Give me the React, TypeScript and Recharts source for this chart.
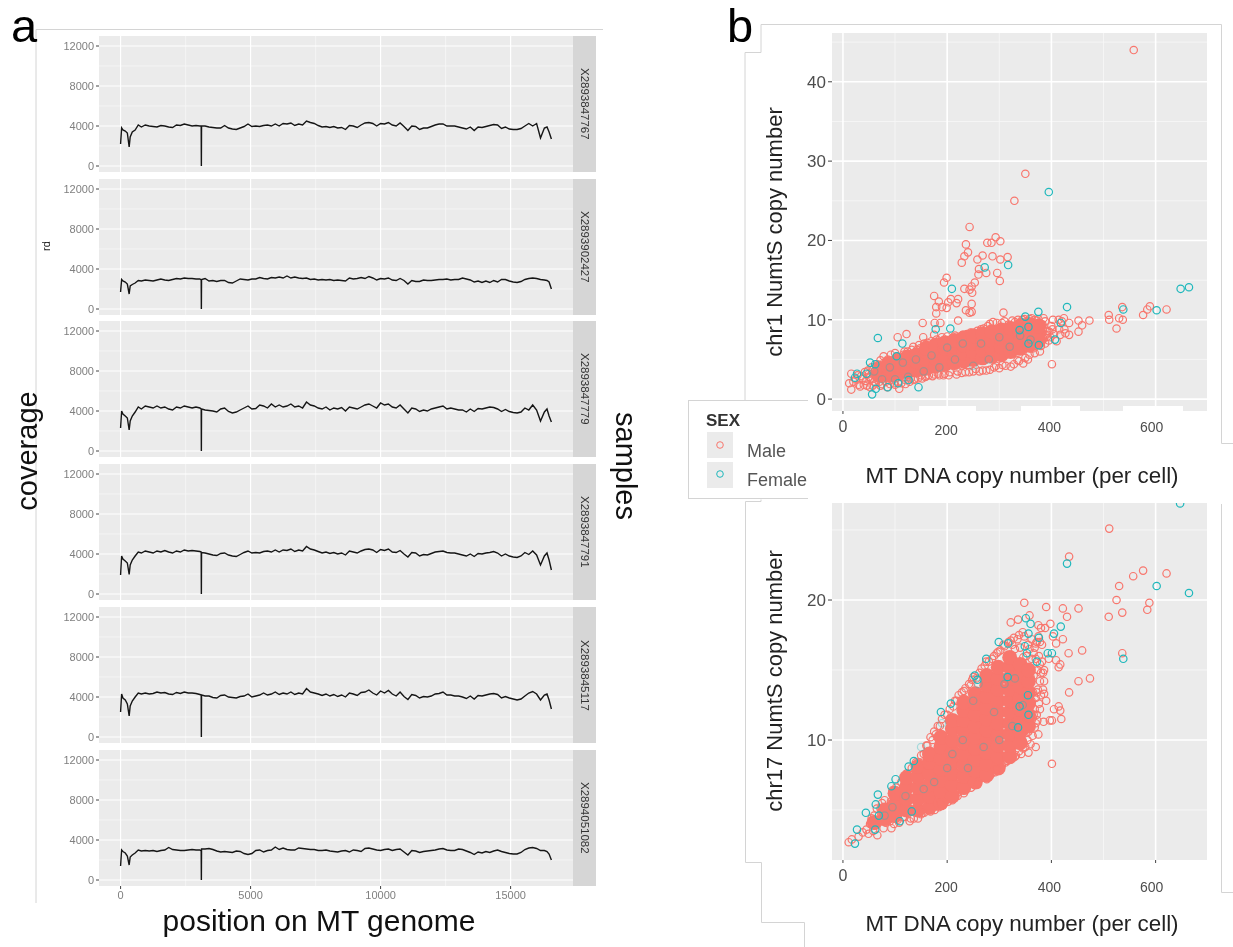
import React from "react";
import { LineChart, Line, ScatterChart, Scatter, XAxis, YAxis, CartesianGrid } from "recharts";

const FONT = '"Liberation Sans", Arial, sans-serif';
const MALE = "#F8766D";
const FEMALE = "#1FB8BC";

// ---------- panel a: coverage along the MT genome ----------
const positions = [
  0, 40, 90, 180, 260, 330, 370, 450, 560, 680, 800,
  950, 1100, 1250, 1400, 1550, 1700, 1850, 2000, 2150, 2300, 2450, 2600, 2750, 2900, 3050,
  3100, 3107, 3114,
  3250, 3400, 3550, 3700, 3850, 4000, 4150, 4300, 4450, 4600,
  4750, 4900, 5050, 5200, 5350, 5500, 5650, 5800, 5950, 6100,
  6250, 6400, 6550, 6700, 6850, 7000, 7150, 7300, 7450, 7600,
  7750, 7900, 8050, 8200, 8350, 8500, 8650, 8800, 8950, 9100,
  9250, 9400, 9550, 9700, 9850, 10000, 10150, 10300, 10450, 10600,
  10750, 10900, 11050, 11200, 11350, 11500, 11650, 11800, 11950, 12100,
  12250, 12400, 12550, 12700, 12850, 13000, 13150, 13300, 13450, 13600,
  13750, 13900, 14050, 14200, 14350, 14500, 14650, 14800, 14950, 15100,
  15250, 15400, 15550, 15700, 15850, 16000, 16150, 16300,
  16400, 16480, 16569,
];

const rdX2893847767 = [
  2200, 3800, 3600, 3500, 3300, 1900, 2900, 3400, 3600, 4100, 3900,
  4100, 4000, 3950, 3900, 4050, 4000, 3900, 3850, 4100, 4050, 4200, 4100, 4000, 4050, 4000,
  4000, 0, 4000,
  4000, 3900, 3850, 3800, 3800, 4050, 3800, 3700, 3650, 3800,
  3950, 4200, 3950, 4000, 3950, 4050, 4100, 4000, 4200, 4000,
  4250, 4200, 4300, 4050, 4200, 4100, 4500, 4350, 4250, 4050,
  3900, 3950, 3850, 3950, 3800, 3850, 3650, 4050, 4000, 3850,
  4100, 4300, 4350, 4250, 4000, 4250, 4200, 4350, 4100, 4000,
  4300, 3950, 3550, 4000, 3950, 3650, 3800, 3800, 3950, 4100,
  4200, 4200, 4000, 4000, 4000, 3900, 3800, 3700, 3900, 3550,
  3900, 3850, 3950, 4050, 4150, 4100, 3750, 3900, 3700, 3650,
  3650, 3750, 4000, 4250, 4000, 4250, 2800, 3800,
  3900, 3400, 2700,
];
const rdX2893902427 = [
  1700, 2950, 2800, 2700, 2500, 1500, 2300, 2450, 2600, 2850, 2800,
  2900, 2850, 2800, 2900, 3000, 2900, 2850, 2950, 3050, 3000, 3100, 3050, 3050, 3000, 3000,
  2900, 0, 2950,
  3050, 2800, 2850, 2750, 2850, 2850, 2650, 2600, 2800, 3000,
  2950, 2900, 3000, 3000, 3150, 3050, 3000, 3150, 3100, 3200,
  3100, 3300, 3100, 3200, 3100, 3050, 3100, 2950, 3000, 2900,
  2950, 2900, 2950, 2850, 2900, 2850, 2800, 3100, 3000, 3050,
  3150, 3050, 3250, 3100, 2900, 3050, 3000, 3100, 2900, 2850,
  3050, 2850, 2500, 2850, 2750, 2750, 2900, 2850, 2850, 2900,
  2950, 2950, 3000, 2900, 2950, 2950, 3100, 3000, 2900, 2700,
  2800, 2650, 2800, 2650, 2850, 2700, 2950, 2950, 2800, 2700,
  2650, 2750, 2950, 3050, 3100, 3050, 2950, 2900,
  2850, 2700, 2000,
];
const rdX2893847779 = [
  2300, 4000, 3700, 3500, 3300, 2100, 3000, 3500, 3900, 4400, 4200,
  4500, 4400, 4300, 4500, 4300, 4400, 4200, 4100, 4400, 4300, 4500, 4400, 4300, 4400, 4300,
  4200, 0, 4200,
  4100, 4050, 4000, 3900, 4200, 4300, 3950, 3800, 3900, 4100,
  4300, 4500, 4200, 4250, 4600, 4500, 4300, 4700, 4400, 4600,
  4400, 4500, 4700, 4400, 4500, 4300, 4900, 4600, 4500, 4300,
  4200, 4400, 4100, 4300, 4200, 4350, 4000, 4400, 4300, 4200,
  4400, 4600, 4700, 4500, 4300, 4800, 4600, 4700, 4400, 4300,
  4600, 4200, 3800, 4300, 4200, 3950, 4100, 4000, 4200, 4300,
  4400, 4500, 4200, 4300, 4200, 4100, 4100, 3900, 4200, 3950,
  4250, 4200, 4300, 4400, 4350, 4200, 3950, 4150, 3950, 3850,
  3800, 3900, 4300, 4100, 4600, 4100, 3000, 3900,
  4200, 3500, 2900,
];
const rdX2893847791 = [
  1900, 3800, 3500, 3300, 3100, 1950, 2900, 3400, 3800, 4200, 4100,
  4300, 4200, 4100, 4300, 4200, 4350, 4200, 4100, 4300, 4200, 4400, 4300, 4350, 4300, 4250,
  4200, 0, 4150,
  4100, 4000, 3900, 3850, 4050, 4100, 3900, 3800, 3750, 3950,
  4150, 4300, 4100, 4150, 4100, 4250, 4300, 4200, 4400, 4200,
  4400, 4350, 4500, 4250, 4400, 4300, 4750, 4500, 4400, 4250,
  4100, 4200, 4050, 4150, 4000, 4100, 3900, 4300, 4200, 4100,
  4300, 4450, 4500, 4400, 4150, 4450, 4350, 4500, 4200, 4150,
  4350, 4000, 3700, 4150, 4100, 3800, 3950, 3900, 4050, 4200,
  4250, 4300, 4150, 4100, 4100, 4000, 3900, 3800, 4000, 3750,
  4050, 4000, 4100, 4150, 4250, 4100, 3800, 4000, 3800, 3700,
  3650, 3800, 4150, 3950, 4300, 3900, 2900, 3800,
  4100, 3400, 2400,
];
const rdX2893845117 = [
  2500, 4300, 3900, 3700, 3300, 2100, 3100, 3600, 4000, 4400, 4300,
  4400, 4300, 4350, 4500, 4400, 4450, 4300, 4250, 4450, 4350, 4500, 4400, 4400, 4350, 4250,
  4200, 0, 4200,
  4100, 4100, 3950, 3900, 4150, 4200, 4000, 3950, 3900, 4050,
  4100, 4300, 4000, 4100, 4200, 4400, 4200, 4300, 4500, 4250,
  4400, 4300, 4500, 4250, 4400, 4300, 4850, 4500, 4400, 4300,
  4150, 4300, 4100, 4250, 4050, 4200, 4000, 4400, 4300, 4150,
  4450, 4500, 4700, 4400, 4200, 4600, 4400, 4650, 4300, 4100,
  4500, 4050, 3750, 4250, 4150, 3900, 4050, 4000, 4100, 4300,
  4350, 4500, 4200, 4200, 4100, 4100, 4000, 3850, 4100, 3800,
  4150, 4100, 4200, 4300, 4350, 4250, 3900, 4050, 3900, 3800,
  3700, 3800, 4100, 4400, 4550, 4300, 3700, 4200,
  4300, 3700, 2800,
];
const rdX2894051082 = [
  1400, 3000, 2850, 2700, 2400, 1500, 2300, 2500, 2700, 3000, 2900,
  2950, 2900, 2950, 2850, 2950, 3000, 3250, 3050, 3000, 2950, 2950, 3000, 3050, 3000, 3000,
  2900, 0, 3100,
  3100, 3150, 3050, 2900, 2800, 2850, 2800, 2750, 2900, 2850,
  2650, 2550, 2650, 2950, 3000, 2800, 2950, 3000, 3300, 3050,
  3200, 3050, 3000, 3000, 3200, 3150, 3100, 3050, 3050, 2950,
  2950, 3000, 2900, 2850, 2800, 2900, 2950, 2800, 3000, 2950,
  2850, 3150, 3200, 3100, 3000, 2950, 3050, 3100, 2950, 3050,
  3100, 2800, 2500, 2950, 2900, 2750, 2850, 2900, 2950, 3000,
  3100, 3150, 3000, 2950, 2950, 3100, 3050, 2900, 2750, 2550,
  2800, 2700, 2850, 2750, 2900, 3000, 2850, 2750, 2650, 2600,
  2600, 2750, 3050, 3200, 3250, 3150, 2950, 2950,
  2850, 2600, 2000,
];

const sampleNames = ["X2893847767", "X2893902427", "X2893847779", "X2893847791", "X2893845117", "X2894051082"];
const sampleValues = [rdX2893847767, rdX2893902427, rdX2893847779, rdX2893847791, rdX2893845117, rdX2894051082];
const facetTops = [36, 179, 321, 464, 607, 750];
const rdTicks = [0, 4000, 8000, 12000];
const rdMinor = [2000, 6000, 10000];
const posTicks = [0, 5000, 10000, 15000];
const posMinor = [2500, 7500, 12500];

// ---------- panel b: copy numbers [MT DNA, NumtS] ----------
type P = number[];
const chr1MaleOutliers: P[] = [
  [558,44],[350,28.4],[329,25],[243,21.7],[236,19.5],[293,20.4],[302,19.9],[277,19.7],[285,19.7],[240,18.5],
  [233,18],[228,17.2],[258,17.6],[268,18.1],[287,18],[302,17.6],[316,17.9],[261,16.4],[260,15.7],[275,15.9],
  [296,15.9],[301,14.9],[253,14.7],[199,15.3],[194,14.7],[247,14.2],[233,13.9],[243,13.8],[248,13.4],[175,13],
  [184,12.3],[221,12.6],[207,12.6],[202,12.2],[218,12.1],[179,11.6],[190,11.6],[199,11.5],[247,12],[236,11.2],
  [243,10.9],[247,11],[179,10.8],[308,10.9],[153,9.6],[176,9.6],[187,9.6],[221,9.9],[175,8.1],[122,8.2],
  [105,7.8],[154,7.8],[401,4.4],[473,9.9],[452,9.9],[459,9.3],[510,10.6],[511,10],[530,10.2],[537,10],
  [525,8.9],[536,11.6],[576,10.6],[584,11.3],[589,11.7],[621,11.3],[434,9.6],[424,10.2],[414,10],[403,10],
  [420,9.8],[452,8.5],[434,8.1],[427,8.3],[417,8.1],
];
const chr1MaleBand: P[] = [
  [12,2],[16,1.2],[16,3.2],[25,2.5],[30,1.8],[35,2.9],[40,1.8],[44,2.3],[48,3.6],[52,1.5],[55,4],[60,2.2],[62,3.2],
  [66,4.4],[70,2.2],[72,4.9],[78,5.4],[80,3],[85,1.5],[88,4.4],[92,5.6],[95,2.4],[100,5.8],[102,3.4],[108,1.3],
  [110,2.8],[112,5.1],[118,6],[120,2.4],[125,3],[128,5.6],[130,2.6],[135,6.6],[138,2.5],[142,6.2],[146,6.8],[150,3],
  [155,6.4],[158,2.8],[162,7.1],[165,3],[170,7.3],[175,3.1],[180,7.5],[185,3],[190,7.8],[195,3.2],[200,7.9],[205,3.4],
  [215,8],[220,3.5],[230,8.1],[235,3.4],[245,8.4],[250,3.5],[258,8.6],[262,3.5],[270,8.9],[275,3.6],[282,9.5],[290,4],
  [295,9.6],[300,3.9],[305,9.6],[312,4.2],[318,9.4],[322,4.1],[330,9.7],[335,4.9],[342,9.7],[346,4.5],[352,9.8],
  [358,5.6],[362,10.2],[368,5.8],[372,9.9],[378,6],[383,9.4],[388,7],[392,8.6],[395,7.4],[400,9.2],[405,8.2],[410,7.3],
  [415,8.8],[425,8.8],[375,10.1],[385,10.2],[368,10],[360,6.4],[350,5.2],[70,3.6],[80,4.2],[95,3.6],[105,4.6],[60,3],
  [50,2.8],[75,1.9],[100,1.8],[115,3.4],[130,5],[145,5.5],[390,8.1],[382,7.5],[384,8.7],
];
const chr1MaleBandExtra: P[] = [
  [20,2.2],[28,3],[33,1.6],[38,2.6],[42,3.4],[46,1.7],[50,3.2],[54,2.5],[57,1.7],[58,3.7],[63,2],[65,2.7],[68,3.3],
  [72,1.7],[74,3.8],[76,2.6],[79,4.6],[82,2.2],[84,3.4],[86,5],[90,1.9],[92,3],[96,4.9],[98,2],[100,3],[104,5.4],
  [106,2.2],[110,3.8],[112,2],[116,5.6],[120,1.9],[124,6],[128,2.2],[132,6.2],[136,2.4],[140,5.8],[144,2.6],[148,6.4],
  [152,2.6],[156,7],[160,2.9],[168,6.7],[172,2.9],[176,7],[182,3.2],[188,7.2],[193,3],[198,7.4],[203,3],[210,7.7],
  [218,3.1],[225,7.9],[228,3.3],[238,8.2],[242,3.4],[252,8.3],[255,3.8],[265,8.8],[268,3.6],[278,9.2],[282,3.7],[288,9.7],
  [294,4.2],[310,9.8],[306,4.3],[325,9.9],[328,4.4],[338,4.8],[336,10],[344,10],[355,5],[348,10.1],[358,10.1],[365,6.4],
  [370,6.7],[375,7],[380,6.7],[385,7.6],[388,9.8],[392,7.9],[396,8.5],[398,7.8],[402,8.8],[375,9.6],
];
const chr1MaleCore: P[] = [
  [70,3],[70,3.9],[88,3],[88,3.9],[88,4.5],[106,3.3],[106,4.2],[106,4.9],[124,3.5],[124,4.5],[124,5.3],
  [142,3.7],[142,4.7],[142,5.6],[160,3.9],[160,4.9],[160,5.9],[160,6.4],[178,4.2],[178,5.2],[178,6.2],[178,6.8],
  [196,4.4],[196,5.4],[196,6.4],[196,7.1],[214,4.6],[214,5.6],[214,6.6],[214,7.4],[232,4.8],[232,5.8],[232,6.8],[232,7.7],
  [250,5],[250,6],[250,7],[250,8],[268,5.2],[268,6.2],[268,7.2],[268,8.2],[286,5.4],[286,6.4],[286,7.4],[286,8.5],
  [304,5.6],[304,6.6],[304,7.6],[304,8.7],[322,6],[322,7],[322,8],[322,8.9],[340,6.4],[340,7.4],[340,8.4],[340,9.2],
  [358,6.8],[358,7.7],[358,8.6],[358,9.4],[376,7.4],[376,8.3],[376,9.2],
];
const chr1Female: P[] = [
  [395,26.1],[317,16.9],[272,16.6],[209,13.9],[664,14.1],[648,13.9],[602,11.2],[538,11.3],[430,11.6],[375,11],
  [350,10.4],[418,9.6],[206,8.9],[178,8.8],[356,9.1],[67,7.7],[114,7],[52,4.6],[62,4.4],[103,5.4],
  [27,3.2],[23,2.7],[45,3.2],[56,0.6],[63,1.3],[145,1.5],[86,1.5],[106,2],[126,2.4],[339,8.7],
  [407,7.5],[356,7],[376,6.8],
];
const chr1FemaleInner: P[] = [
  [60,3.5],[75,2.5],[90,4],[100,2.5],[115,4.6],[125,2.8],[140,5],[155,3.5],[170,5.5],[185,4],
  [200,6.5],[215,5],[230,7],[250,4.2],[265,7],[280,5],[300,7.8],[320,6.6],[340,8],[360,7.5],
];

const chr17MaleOutliers: P[] = [
  [511,25.1],[434,23.1],[557,21.7],[576,22.1],[621,21.9],[530,21],[525,20],[588,19.8],[584,19.3],[510,18.8],
  [536,19.1],[536,16.2],[348,19.8],[390,19.5],[422,19.4],[452,19.4],[430,18.8],[322,18.4],[336,18.6],[358,18.9],
  [398,18.3],[375,18.2],[380,18],[388,18],[403,17.4],[422,17.2],[409,16.9],[433,16.2],[459,16.4],[395,15.8],
  [409,15.7],[417,15.4],[414,15.2],[474,14.4],[452,14.2],[434,13.4],[386,14.2],[386,13.3],[390,12.8],[414,12.4],
  [405,12.2],[417,12.1],[419,11.5],[397,11.4],[401,11.4],[385,11.3],[373,11.4],[375,10.4],[370,9.5],[356,9.1],
  [401,8.3],[294,7.9],[258,6.8],[187,5.5],[153,4.8],[93,3.7],[66,3.2],[49,3.3],[11,2.7],[17,2.9],
];
const chr17MaleBand: P[] = [
  [30,3.1],[38,3.4],[45,3.6],[52,4],[58,3.5],[70,4.2],[78,3.7],[85,4.9],[92,5.6],[88,4.3],[98,4],[105,4.3],
  [110,6.2],[115,4.5],[118,6.9],[125,7.4],[130,4.4],[135,7.6],[140,4.8],[146,8.4],[150,4.7],[155,9],[160,9.6],
  [165,5],[172,10],[170,5.2],[178,10.4],[180,5.3],[186,11],[190,11.5],[196,5.6],[200,11.8],[205,5.9],[212,12.4],
  [218,12.8],[222,6.3],[228,13.4],[235,13.7],[240,6.8],[245,13.9],[250,14.5],[252,7],[262,14.8],[268,7.3],[272,15.3],
  [280,15.6],[285,7.6],[290,16],[298,16.3],[305,8.2],[310,16.7],[315,8.5],[322,17.1],[328,17.3],[332,8.9],[338,17.5],
  [342,9],[345,17.7],[350,9.5],[355,16.8],[360,9.7],[362,17.2],[364,10.3],[366,16.2],[368,10.9],[370,15.8],[372,11.8],
  [374,15],[376,12.6],[378,14.2],[380,13.2],[382,16.8],[384,14.8],[375,17.4],[370,16.9],[365,13.4],[358,12],[355,14],
  [350,11.1],[346,15.9],[344,10],[340,16.6],[352,16],[356,15.2],[360,14.5],[362,12.8],[368,12.2],[372,13.4],[376,16],
  [330,16.5],[60,4.6],[72,5.1],[80,5.7],[62,3.9],[96,6.1],[108,5.4],[120,5.2],[348,10.6],[356,11],[364,11.6],[378,15.4],
];
const chr17MaleBandExtra: P[] = [
  [55,4.4],[65,5.1],[75,5.5],[82,4.1],[90,4.2],[95,6.4],[102,6.6],[108,4.1],[112,7],[118,4.5],[122,7.6],[128,4.2],
  [132,8],[136,4.4],[140,8.4],[144,4.4],[150,8.9],[156,4.8],[162,9.6],[168,4.9],[168,10.2],[176,5],[175,10.6],[184,5.2],
  [182,11],[192,5.4],[195,11.8],[202,5.6],[205,12.2],[210,5.7],[215,12.8],[220,6],[222,13.2],[232,6.2],[232,13.5],[242,14],
  [246,6.6],[248,14.3],[256,14.4],[258,7],[266,15.1],[276,7.2],[275,15.6],[286,15.8],[292,7.7],[295,16.2],[302,16.4],[300,8.1],
  [308,16.8],[312,8.4],[318,17],[320,8.6],[325,16.8],[330,8.8],[335,17.2],[338,9.2],[346,9.4],[348,17.4],[354,10],[356,10.6],
  [352,12.8],[358,13.2],[362,11.4],[366,14.6],[370,13],[374,13.6],[378,12.2],[380,14.8],[382,15.6],[384,13.6],[386,15],[370,11.2],
  [366,11.8],[362,15.8],[368,16.6],[372,17],[378,17],[350,14.6],[346,13.3],[344,11.7],[352,11.6],[358,16.5],
];
const chr17MaleCore: P[] = [
  [60,4.1],[80,4.4],[80,5],[100,4.6],[100,5.4],[100,6.2],[122,5],[122,5.8],[122,6.6],[122,7.3],[144,5],[144,5.8],[144,6.6],
  [144,7.4],[144,8.1],[166,5.2],[166,6],[166,6.8],[166,7.6],[166,8.4],[166,9],[188,5.5],[188,6.3],[188,7.1],[188,7.9],
  [188,8.7],[188,9.5],[188,10.2],[210,6],[210,6.8],[210,7.6],[210,8.4],[210,9.2],[210,10],[210,10.8],[210,11.4],
  [232,6.6],[232,7.4],[232,8.2],[232,9],[232,9.8],[232,10.6],[232,11.4],[232,12.1],[232,12.7],[254,7],[254,7.8],
  [254,8.6],[254,9.4],[254,10.2],[254,11],[254,11.8],[254,12.6],[254,13.3],[276,7.5],[276,8.3],[276,9.1],[276,9.9],
  [276,10.7],[276,11.5],[276,12.3],[276,13.1],[276,13.9],[276,14.6],[298,8],[298,8.8],[298,9.6],[298,10.4],[298,11.2],
  [298,12],[298,12.8],[298,13.6],[298,14.4],[298,15.2],[320,8.8],[320,9.6],[320,10.4],[320,11.2],[320,12],[320,12.8],
  [320,13.6],[320,14.4],[320,15.2],[320,15.9],[340,9.8],[340,10.6],[340,11.4],[340,12.2],[340,13],[340,13.8],[340,14.6],[340,15.4],
  [356,11],[356,11.8],[356,12.6],[356,13.4],[356,14.2],[356,15],
];
const chr17Female: P[] = [
  [647,26.9],[430,22.6],[602,21],[664,20.5],[538,15.8],[418,18.1],[405,17.6],[376,17.3],[351,18.7],[360,18.3],
  [299,17],[317,16.9],[275,15.8],[393,16.2],[401,16.2],[353,16.2],[372,15.6],[316,14.5],[258,14.3],[253,14.6],
  [355,13.2],[339,12.4],[356,11.8],[336,10.9],[207,12.6],[188,12],[136,8.5],[126,8.1],[101,7.2],[93,6.7],
  [67,6.1],[63,5.4],[44,4.8],[69,4.6],[27,3.6],[23,2.6],[109,4.2],[132,4.9],[62,3.6],[349,16.7],[356,17.6],
];
const chr17FemaleInner: P[] = [
  [150,9.5],[175,7],[190,11.2],[210,9],[230,10],[250,12.8],[270,9.5],[290,12],[310,14],[325,11],
  [330,14.4],[345,12.5],[260,14],[240,8],[200,8],[155,6.5],[120,6],[95,5.2],[80,4.6],[300,10],
];

const mtTicks = [0, 200, 400, 600];
const mtMinor = [100, 300, 500];

const toPoints = (rows: P[]) => rows.map(([x, y]) => ({ x, y }));

const ring = (color: string, opacity = 1) => (p: any) => (
  <circle cx={p.cx} cy={p.cy} r={3.7} fill="none" stroke={color} strokeWidth={1.2} strokeOpacity={opacity} />
);
const solid = (r: number) => (p: any) => <circle cx={p.cx} cy={p.cy} r={r} fill={MALE} />;

function Facet({ values, label, top, showX }: { values: number[]; label: string; top: number; showX: boolean }) {
  const data = positions.map((position, i) => ({ position, rd: values[i] }));
  const tick = { fill: "#7f7f7f", fontSize: 11, fontFamily: FONT };
  return (
    <>
      <div style={{ position: "absolute", left: 40, top }}>
        <LineChart width={533} height={showX ? 164 : 136} data={data} margin={{ top: 0, right: 0, bottom: 0, left: 0 }}>
          <CartesianGrid fill="#ebebeb" stroke="#f6f6f6" strokeWidth={0.8} horizontalValues={rdMinor} verticalValues={posMinor} />
          <CartesianGrid stroke="#ffffff" strokeWidth={1.2} horizontalValues={rdTicks} verticalValues={posTicks} />
          <XAxis dataKey="position" type="number" domain={[-830, 17400]} ticks={posTicks} hide={!showX} height={28}
            interval={0} tickSize={3} axisLine={false} tick={tick} tickLine={{ stroke: "#444" }} />
          <YAxis type="number" domain={[-600, 13000]} ticks={rdTicks} width={59} interval={0} tickSize={3}
            axisLine={false} tick={tick} tickLine={{ stroke: "#444" }} />
          <Line type="linear" dataKey="rd" stroke="#151515" strokeWidth={1.4} dot={false} isAnimationActive={false} />
        </LineChart>
      </div>
      <div style={{ position: "absolute", left: 573, top, width: 22.5, height: 136, background: "#d6d6d6", color: "#333",
        fontFamily: FONT, fontSize: 11.5, writingMode: "vertical-rl", textAlign: "center", lineHeight: "22.5px" }}>
        {label}
      </div>
    </>
  );
}

function CopyPlot({ top, height, axisHeight, yDomain, yTicks, yMinor, offsets, core, coreR, band, outliers, female, femaleInner }: any) {
  const xTick = ({ x, y, payload }: any) => {
    const o = offsets[payload.value];
    return (
      <text x={x + o.dx} y={y + o.dy} textAnchor="middle" fill="#4d4d4d" fontFamily={FONT} fontSize={o.size}>
        {payload.value}
      </text>
    );
  };
  return (
    <div style={{ position: "absolute", left: 770, top }}>
      <ScatterChart width={437} height={height} margin={{ top: 0, right: 0, bottom: 0, left: 0 }}>
        <CartesianGrid fill="#ebebeb" stroke="#f6f6f6" strokeWidth={0.9} horizontalValues={yMinor} verticalValues={mtMinor} />
        <CartesianGrid stroke="#ffffff" strokeWidth={1.6} horizontalValues={yTicks} verticalValues={mtTicks} />
        <XAxis dataKey="x" type="number" domain={[-21, 698.6]} ticks={mtTicks} height={axisHeight} interval={0}
          tickSize={3} axisLine={false} tick={xTick} tickLine={{ stroke: "#444" }} />
        <YAxis dataKey="y" type="number" domain={yDomain} ticks={yTicks} width={62} interval={0} tickSize={4} axisLine={false}
          tick={{ fill: "#4d4d4d", fontSize: 17, fontFamily: FONT }} tickLine={{ stroke: "#444" }} />
        <Scatter name="Male" data={toPoints(band)} shape={ring(MALE)} isAnimationActive={false} />
        <Scatter name="Male core" data={toPoints(core)} shape={solid(coreR)} isAnimationActive={false} />
        <Scatter name="Female" data={toPoints(femaleInner)} shape={ring(FEMALE, 0.35)} isAnimationActive={false} />
        <Scatter name="Male" data={toPoints(outliers)} shape={ring(MALE)} isAnimationActive={false} />
        <Scatter name="Female" data={toPoints(female)} shape={ring(FEMALE)} isAnimationActive={false} />
      </ScatterChart>
    </div>
  );
}

const topTickOffsets = {
  0: { dx: 0, dy: 16, size: 16 },
  200: { dx: -1, dy: 19, size: 14 },
  400: { dx: -2, dy: 16, size: 14 },
  600: { dx: -4, dy: 16, size: 14 },
};
const bottomTickOffsets = {
  0: { dx: 0, dy: 16, size: 16 },
  200: { dx: -1, dy: 27, size: 14 },
  400: { dx: -2, dy: 27, size: 14 },
  600: { dx: -4, dy: 27, size: 14 },
};

const white = (left: number, top: number, width: number, height: number) => (
  <div style={{ position: "absolute", left, top, width, height, background: "#fff" }} />
);

export default function App() {
  return (
    <div style={{ position: "absolute", left: 0, top: 0, width: 1233, height: 947, background: "#fff", overflow: "hidden", fontFamily: FONT, filter: "blur(0.35px)" }}>
      <svg width={1233} height={947} style={{ position: "absolute", left: 0, top: 0 }}>
        <g fill="none" stroke="#d4d4d4" strokeWidth={1}>
          <path d="M36 903V29.5H603" />
          <path d="M745 400V52.5H761V24.5H1221.5V443.5H1233" />
          <path d="M761 499.5V501.5H745.5V862.5H761.5V922.5H804.5V947" />
          <path d="M1221.5 504V892.5H1233" />
        </g>
      </svg>

      {sampleValues.map((values, i) => (
        <Facet key={sampleNames[i]} values={values} label={sampleNames[i]} top={facetTops[i]} showX={i === 5} />
      ))}

      <CopyPlot top={33} height={406} axisHeight={28} yDomain={[-1.5, 46.15]} yTicks={[0, 10, 20, 30, 40]} yMinor={[5, 15, 25, 35, 45]}
        offsets={topTickOffsets} core={chr1MaleCore} coreR={7.5} band={[...chr1MaleBand, ...chr1MaleBandExtra]} outliers={chr1MaleOutliers} female={chr1Female} femaleInner={chr1FemaleInner} />
      <CopyPlot top={503} height={397} axisHeight={40} yDomain={[1.43, 26.93]} yTicks={[10, 20]} yMinor={[5, 15, 25]}
        offsets={bottomTickOffsets} core={chr17MaleCore} coreR={7.5} band={[...chr17MaleBand, ...chr17MaleBandExtra]} outliers={chr17MaleOutliers} female={chr17Female} femaleInner={chr17FemaleInner} />

      {white(919, 406, 57, 10)}
      {white(1021, 406, 59, 10)}
      {white(1123, 406, 60, 10)}

      <svg width={1233} height={947} style={{ position: "absolute", left: 0, top: 0, pointerEvents: "none" }} fontFamily={FONT}>
        <text x={11} y={42} fontSize={47} fill="#000">a</text>
        <text x={727} y={42} fontSize={47} fill="#000">b</text>
        <text x={50} y={246} fontSize={11} fill="#222" textAnchor="middle" transform="rotate(-90 50 246)">rd</text>
        <text x={37} y={451} fontSize={29} fill="#111" textAnchor="middle" transform="rotate(-90 37 451)">coverage</text>
        <text x={616} y={466} fontSize={29} fill="#111" textAnchor="middle" transform="rotate(90 616 466)">samples</text>
        <text x={319} y={931} fontSize={30} fill="#111" textAnchor="middle">position on MT genome</text>
        <text x={1022} y={483} fontSize={22.4} fill="#222" textAnchor="middle">MT DNA copy number (per cell)</text>
        <text x={1022} y={931} fontSize={22.4} fill="#222" textAnchor="middle">MT DNA copy number (per cell)</text>
        <text x={782} y={232} fontSize={22} fill="#222" textAnchor="middle" transform="rotate(-90 782 232)">chr1 NumtS copy number</text>
        <text x={782} y={681} fontSize={22} fill="#222" textAnchor="middle" transform="rotate(-90 782 681)">chr17 NumtS copy number</text>
      </svg>

      <div style={{ position: "absolute", left: 688, top: 400, width: 120, height: 99, background: "#fff", borderLeft: "1px solid #d4d4d4", borderTop: "1px solid #d4d4d4", borderBottom: "1px solid #d4d4d4", boxSizing: "border-box" }}>
        <svg width={120} height={99} fontFamily={FONT} style={{ display: "block" }}>
          <text x={17} y={25} fontSize={17} fontWeight={700} fill="#333">SEX</text>
          <rect x={18} y={31} width={26} height={26} fill="#ebebeb" />
          <rect x={18} y={61} width={26} height={26} fill="#ebebeb" />
          <circle cx={31} cy={44} r={3.3} fill="none" stroke={MALE} />
          <circle cx={31} cy={73} r={3.3} fill="none" stroke={FEMALE} />
          <text x={58} y={56} fontSize={18} fill="#555">Male</text>
          <text x={58} y={85} fontSize={18} fill="#555">Female</text>
        </svg>
      </div>
    </div>
  );
}
